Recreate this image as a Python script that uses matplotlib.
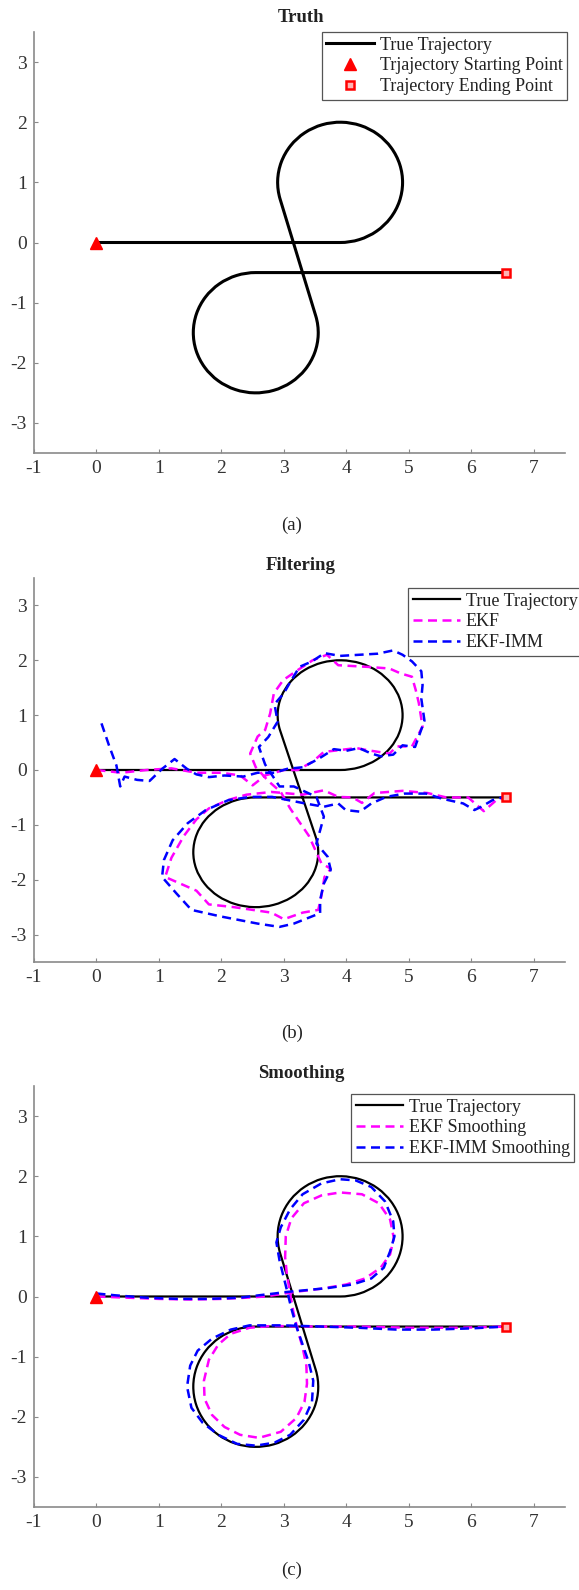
import matplotlib
matplotlib.use("Agg")
import matplotlib.pyplot as plt
from matplotlib.path import Path
from matplotlib.patches import PathPatch
from matplotlib.lines import Line2D

plt.rcParams["font.family"] = ["Liberation Serif", "DejaVu Serif"]
plt.rcParams["axes.unicode_minus"] = False

W, H = 579, 1590

# true trajectory: straight y=0 run, upper loop (CCW), crossing, lower loop (CW), y=-0.5 run
RUN_IN_X = [0.0, 3.9]
RUN_IN_Y = [0.0, 0.0]
LOOP_CX = [3.9, 2.55]
LOOP_CY = [1.0, -1.5]
LOOP_R = [1.0, 1.0]
LOOP_FROM = [-90, 16]
LOOP_TO = [196, -270]
RUN_OUT_X = [2.55, 6.55]
RUN_OUT_Y = [-0.5, -0.5]
START_POINT = (0.0, 0.0)
END_POINT = (6.55, -0.5)

# filtering estimates
EKF_X = [0.0, 0.4, 0.8, 1.2, 1.6, 2.0, 2.3, 2.5, 2.7, 3.0, 3.22, 3.46, 3.64, 3.87, 4.16,
         4.34, 4.69, 4.81, 5.05, 5.22, 5.16, 5.11, 5.05, 4.87, 4.69, 4.34, 3.87, 3.69,
         3.46, 3.22, 2.99, 2.84, 2.78, 2.7, 2.58, 2.46, 2.55, 2.75, 2.95, 3.1, 3.25, 3.4,
         3.5, 3.6, 3.75, 3.65, 3.6, 3.55, 3.3, 3.0, 2.8, 2.5, 2.2, 1.8, 1.6, 1.3, 1.1,
         1.2, 1.4, 1.6, 1.8, 2.1, 2.4, 2.8, 3.0, 3.3, 3.64, 3.87, 4.1, 4.25, 4.45, 4.9,
         5.3, 5.6, 5.95, 6.2, 6.4, 6.55]
EKF_Y = [0.0, -0.05, 0.0, 0.03, -0.05, -0.05, -0.1, -0.28, -0.1, 0.0, 0.0, 0.15, 0.33,
         0.36, 0.4, 0.36, 0.3, 0.43, 0.43, 0.79, 1.22, 1.46, 1.7, 1.76, 1.85, 1.88, 1.91,
         2.1, 2.0, 1.82, 1.64, 1.4, 1.03, 0.73, 0.61, 0.3, 0.05, -0.2, -0.4, -0.7, -0.95,
         -1.2, -1.45, -1.7, -1.8, -1.95, -2.3, -2.55, -2.6, -2.72, -2.6, -2.55, -2.5,
         -2.45, -2.2, -2.05, -1.95, -1.6, -1.2, -0.9, -0.7, -0.55, -0.45, -0.4, -0.42,
         -0.45, -0.37, -0.49, -0.5, -0.6, -0.42, -0.38, -0.42, -0.5, -0.5, -0.75, -0.55,
         -0.5]

IMM_X = [0.08, 0.2, 0.32, 0.38, 0.45, 0.65, 0.85, 1.05, 1.25, 1.45, 1.6, 1.8, 2.05, 2.35,
         2.58, 2.85, 3.05, 3.3, 3.55, 3.8, 4.0, 4.2, 4.4, 4.55, 4.75, 4.9, 5.1, 5.25, 5.2,
         5.22, 5.2, 5.05, 4.9, 4.75, 4.5, 4.2, 3.9, 3.65, 3.45, 3.25, 3.1, 3.0, 2.85, 2.9,
         2.75, 2.6, 2.7, 2.93, 3.16, 3.52, 3.64, 3.58, 3.52, 3.7, 3.75, 3.64, 3.58, 3.58,
         3.16, 2.93, 2.58, 1.99, 1.52, 1.28, 1.05, 1.08, 1.22, 1.46, 1.75, 2.11, 2.46, 2.81,
         3.34, 3.64, 3.87, 3.99, 4.22, 4.4, 4.64, 4.93, 5.28, 5.52, 5.87, 6.05, 6.16, 6.34,
         6.52]
IMM_Y = [0.85, 0.45, 0.08, -0.3, -0.12, -0.18, -0.2, 0.02, 0.2, 0.02, -0.08, -0.13, -0.1,
         -0.12, -0.05, -0.05, 0.02, 0.05, 0.2, 0.38, 0.35, 0.4, 0.3, 0.25, 0.28, 0.45, 0.42,
         0.9, 1.3, 1.55, 1.8, 1.98, 2.1, 2.18, 2.12, 2.1, 2.08, 2.13, 1.98, 1.88, 1.6, 1.4,
         1.2, 0.88, 0.6, 0.42, 0.1, -0.3, -0.3, -0.49, -0.85, -1.1, -1.34, -1.58, -1.82,
         -2.07, -2.37, -2.61, -2.8, -2.86, -2.8, -2.67, -2.55, -2.25, -1.95, -1.64, -1.28,
         -0.97, -0.73, -0.55, -0.49, -0.49, -0.61, -0.67, -0.61, -0.73, -0.76, -0.61,
         -0.49, -0.43, -0.43, -0.52, -0.61, -0.73, -0.67, -0.55, -0.49]

# smoothing estimates
EKF_S_X = [0.0, 0.5, 1.0, 1.5, 2.0, 2.4, 2.7, 2.95, 3.2, 3.6, 4.0, 4.3, 4.55, 4.7, 4.76,
           4.7, 4.52, 4.25, 3.9, 3.6, 3.32, 3.12, 3.03, 3.02, 3.05, 3.1, 3.15, 3.22, 3.3,
           3.36, 3.37, 3.33, 3.2, 2.95, 2.6, 2.3, 2.05, 1.85, 1.73, 1.72, 1.8, 1.95, 2.15,
           2.45, 2.8, 3.5, 4.2, 5.0, 5.8, 6.55]
EKF_S_Y = [0.0, -0.02, -0.04, -0.05, -0.04, -0.02, 0.0, 0.04, 0.08, 0.13, 0.2, 0.3, 0.48,
           0.7, 0.97, 1.28, 1.55, 1.7, 1.73, 1.68, 1.55, 1.3, 1.0, 0.65, 0.35, 0.05, -0.25,
           -0.55, -0.85, -1.15, -1.45, -1.75, -2.02, -2.25, -2.35, -2.3, -2.17, -1.97, -1.7,
           -1.4, -1.05, -0.8, -0.62, -0.52, -0.49, -0.5, -0.5, -0.52, -0.52, -0.5]

IMM_S_X = [0.0, 0.3, 0.8, 1.3, 1.8, 2.3, 2.6, 2.85, 2.99, 3.3, 3.7, 4.1, 4.4, 4.6, 4.7,
           4.77, 4.75, 4.62, 4.4, 4.15, 3.9, 3.6, 3.3, 3.1, 2.95, 2.88, 2.93, 2.99, 3.05,
           3.12, 3.2, 3.3, 3.4, 3.47, 3.45, 3.32, 3.1, 2.85, 2.55, 2.25, 1.95, 1.7, 1.52,
           1.45, 1.5, 1.62, 1.85, 2.15, 2.45, 3.0, 3.6, 4.2, 4.8, 5.4, 6.0, 6.55]
IMM_S_Y = [0.05, 0.02, -0.02, -0.04, -0.04, -0.02, 0.02, 0.05, 0.07, 0.1, 0.14, 0.2, 0.3,
           0.48, 0.75, 1.0, 1.25, 1.58, 1.82, 1.93, 1.95, 1.88, 1.7, 1.45, 1.15, 0.9, 0.6,
           0.35, 0.1, -0.2, -0.5, -0.8, -1.1, -1.4, -1.75, -2.05, -2.3, -2.43, -2.48, -2.45,
           -2.3, -2.1, -1.85, -1.5, -1.15, -0.9, -0.7, -0.55, -0.48, -0.48, -0.5, -0.52,
           -0.55, -0.55, -0.53, -0.5]

XTICKS = list(range(-1, 8))
YTICKS = list(range(-3, 4))

TICK_FS = 14
LEG_FS = 13
TITLE_FS = 13.5
SPINE = "#8a8a8a"
TXT = "#333333"
DASH = (3.6, 2.2)


def fx(px):
    return px / W


def fy(py):
    return 1 - py / H


def make_axes(fig, top, bottom):
    ax = fig.add_axes([fx(34), fy(bottom), fx(565) - fx(34), (bottom - top) / H])
    ax.set_xlim(-1, 7.5)
    ax.set_ylim(-3.5, 3.5)
    ax.set_xticks(XTICKS)
    ax.set_yticks(YTICKS)
    for s in ("top", "right"):
        ax.spines[s].set_visible(False)
    for s in ("left", "bottom"):
        ax.spines[s].set_color(SPINE)
        ax.spines[s].set_linewidth(1.2)
    ax.tick_params(direction="in", length=3, width=0.8, color=SPINE,
                   labelsize=TICK_FS, labelcolor=TXT, pad=5)
    return ax


def loop_vertices(i):
    # bezier arc of loop i, ordered in the direction of travel
    a, b = LOOP_FROM[i], LOOP_TO[i]
    arc = Path.arc(min(a, b), max(a, b))
    v = arc.vertices * LOOP_R[i] + [LOOP_CX[i], LOOP_CY[i]]
    if b < a:
        v = v[::-1]
    return [tuple(p) for p in v]


def draw_truth(ax, lw):
    verts = [(RUN_IN_X[0], RUN_IN_Y[0]), (RUN_IN_X[1], RUN_IN_Y[1])]
    codes = [Path.MOVETO, Path.LINETO]
    for i in range(len(LOOP_CX)):
        v = loop_vertices(i)
        verts += v
        codes += [Path.LINETO] + [Path.CURVE4] * (len(v) - 1)
    verts.append((RUN_OUT_X[1], RUN_OUT_Y[1]))
    codes.append(Path.LINETO)
    ax.add_patch(PathPatch(Path(verts, codes), fill=False, ec="black", lw=lw,
                           joinstyle="round", capstyle="round", zorder=2))
    return Line2D([], [], color="black", lw=lw)


def draw_points(ax):
    s, = ax.plot(*START_POINT, marker="^", ms=9, color="red", ls="none", zorder=4)
    e, = ax.plot(*END_POINT, marker="s", ms=6, mfc="#ffb3b3", mec="red", mew=1.8,
                 ls="none", zorder=4)
    return s, e


def legend(ax, handles, labels, anchor, loc):
    leg = ax.legend(handles, labels, loc=loc, bbox_to_anchor=anchor,
                    bbox_transform=ax.figure.transFigure, fontsize=LEG_FS, frameon=True,
                    fancybox=False, framealpha=1, edgecolor="#555555", borderpad=0.25,
                    labelspacing=0.22, handlelength=2.65, handletextpad=0.3,
                    borderaxespad=0, numpoints=1)
    leg.get_frame().set_linewidth(0.9)
    for t in leg.get_texts():
        t.set_color("#222222")
    return leg


fig = plt.figure(figsize=(W / 100, H / 100), dpi=100)

# (a) truth
ax = make_axes(fig, 32, 453)
tl = draw_truth(ax, 2.2)
s, e = draw_points(ax)
legend(ax, [tl, s, e],
       ["True Trajectory", "Trjajectory Starting Point", "Trajectory Ending Point"],
       (fx(567), fy(32)), "upper right")

# (b) filtering
ax = make_axes(fig, 578, 962)
tl = draw_truth(ax, 1.6)
ekf, = ax.plot(EKF_X, EKF_Y, color="#ff00ff", lw=1.8, ls=(0, DASH), zorder=3)
imm, = ax.plot(IMM_X, IMM_Y, color="#0000ff", lw=1.8, ls=(0, DASH), zorder=3)
draw_points(ax)
legend(ax, [tl, ekf, imm], ["True Trajectory", "EKF", "EKF-IMM"],
       (fx(408), fy(588)), "upper left")

# (c) smoothing
ax = make_axes(fig, 1086, 1507)
tl = draw_truth(ax, 1.6)
ekf, = ax.plot(EKF_S_X, EKF_S_Y, color="#ff00ff", lw=1.8, ls=(0, DASH), zorder=3)
imm, = ax.plot(IMM_S_X, IMM_S_Y, color="#0000ff", lw=1.8, ls=(0, DASH), zorder=3)
draw_points(ax)
legend(ax, [tl, ekf, imm], ["True Trajectory", "EKF Smoothing", "EKF-IMM Smoothing"],
       (fx(351), fy(1094)), "upper left")

for txt, y in (("Truth", 17), ("Filtering", 566), ("Smoothing", 1073)):
    fig.text(fx(301), fy(y), txt, ha="center", va="center", fontsize=TITLE_FS,
             fontweight="bold", color="#222222")
for txt, y in (("(a)", 525), ("(b)", 1033), ("(c)", 1570)):
    fig.text(fx(292), fy(y), txt, ha="center", va="center", fontsize=TITLE_FS,
             color="#222222")

fig.savefig("out.png", dpi=100, facecolor="white")
